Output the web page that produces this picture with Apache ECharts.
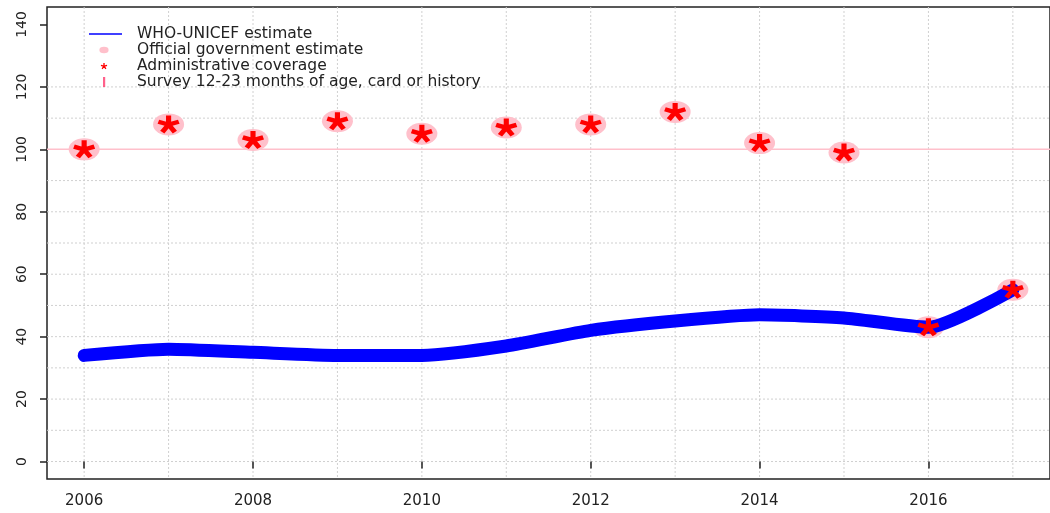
<!DOCTYPE html>
<html>
<head>
<meta charset="utf-8">
<script src="https://cdn.jsdelivr.net/npm/echarts@6/dist/echarts.min.js"></script>
<style>
html,body{margin:0;padding:0;background:#fff;}
#chart{width:1050px;height:513px;}
</style>
</head>
<body>
<div id="chart"></div>
<script>
// ---- data ----
var years = [2006, 2007, 2008, 2009, 2010, 2011, 2012, 2013, 2014, 2015, 2016, 2017];
var whoUnicef = [34, 36, 35, 34, 34, 37, 42, 45, 47, 46, 43, 55];
var officialGov = [100, 108, 103, 109, 105, 107, 108, 112, 102, 99, 43, 55];
var adminCoverage = [100, 108, 103, 109, 105, 107, 108, 112, 102, 99, 43, 55];
var surveyValues = [];
var xTickLabels = [2006, 2008, 2010, 2012, 2014, 2016];
var yTickLabels = [0, 20, 40, 60, 80, 100, 120, 140];
var gridYValues = [0, 10, 20, 30, 40, 50, 60, 70, 80, 90, 110, 120];
var gridXValues = years;
var refLine = [100];
var seriesNames = ['WHO-UNICEF estimate', 'Official government estimate', 'Administrative coverage', 'Survey 12-23 months of age, card or history'];

function pair(xs, ys) { return xs.map(function (x, i) { return [x, ys[i]]; }); }

function starPath(cx, cy, L, w) {
  var s = '';
  for (var k = 0; k < 5; k++) {
    var t = k * 72 * Math.PI / 180;
    var dx = Math.sin(t), dy = -Math.cos(t);
    var px = Math.cos(t), py = Math.sin(t);
    var b = -w * 0.3;
    var pts = [
      [cx + px * w / 2 + dx * b, cy + py * w / 2 + dy * b],
      [cx + px * w / 2 + dx * L, cy + py * w / 2 + dy * L],
      [cx - px * w / 2 + dx * L, cy - py * w / 2 + dy * L],
      [cx - px * w / 2 + dx * b, cy - py * w / 2 + dy * b]
    ];
    s += 'M' + pts.map(function (p) { return p[0].toFixed(2) + ',' + p[1].toFixed(2); }).join('L') + 'Z';
  }
  return s;
}

var starSymbol = 'path://' + starPath(50, 50, 50, 24);
var pad = 'M0,0M430,100';
var legLine = 'path://' + pad + 'M0,43L330,43L330,57L0,57Z';
var legDot = 'path://' + pad + 'M104,50A46,32 0 1 0 196,50A46,32 0 1 0 104,50Z';
var legStar = 'path://' + pad + starPath(150, 53, 32, 13);
var legBar = 'path://' + pad + 'M140,0L162,0L162,100L140,100Z';

var FONT = 'DejaVu Sans';
var TXT = '#222';

function hLine(color, width, dash) {
  return function (params, api) {
    var cs = params.coordSys;
    var y = api.coord([2010, api.value(0)])[1];
    return {
      type: 'line', silent: true,
      shape: { x1: cs.x, y1: y, x2: cs.x + cs.width, y2: y },
      style: { stroke: color, lineWidth: width, lineDash: dash, fill: null }
    };
  };
}
function vLine(color, width, dash) {
  return function (params, api) {
    var cs = params.coordSys;
    var x = api.coord([api.value(0), 50])[0];
    return {
      type: 'line', silent: true,
      shape: { x1: x, y1: cs.y, x2: x, y2: cs.y + cs.height },
      style: { stroke: color, lineWidth: width, lineDash: dash, fill: null }
    };
  };
}

var noSplit = { show: false };

var chart = echarts.init(document.getElementById('chart'), null, { renderer: 'canvas' });
chart.setOption({
  animation: false,
  backgroundColor: '#fff',
  grid: {
    left: 47, right: -4, top: 7, bottom: 34,
    show: true, borderColor: '#222', borderWidth: 1.5, backgroundColor: 'transparent'
  },
  legend: {
    orient: 'vertical', left: 89, top: 26, padding: 0,
    itemWidth: 43, itemHeight: 10, itemGap: 0,
    textStyle: { fontFamily: FONT, fontSize: 15.5, color: TXT, lineHeight: 15 },
    selectedMode: false,
    data: [
      { name: seriesNames[0], icon: legLine, itemStyle: { color: '#0000ff', borderWidth: 0 }, lineStyle: { color: '#0000ff' } },
      { name: seriesNames[1], icon: legDot, itemStyle: { color: '#ffc0cb', borderWidth: 0 } },
      { name: seriesNames[2], icon: legStar, itemStyle: { color: '#ff0000', borderWidth: 0 } },
      { name: seriesNames[3], icon: legBar, itemStyle: { color: '#ff3a6e', borderWidth: 0 } }
    ]
  },
  xAxis: {
    type: 'value', min: 2005.56, max: 2017.44,
    axisLine: { show: false },
    splitLine: noSplit,
    minorSplitLine: noSplit,
    splitArea: { show: false },
    axisTick: { show: true, customValues: xTickLabels, length: 7, lineStyle: { color: '#222', width: 1.5 } },
    axisLabel: {
      customValues: xTickLabels, margin: 15,
      fontFamily: FONT, fontSize: 15, color: TXT,
      formatter: function (v) { return String(v); }
    }
  },
  yAxis: {
    type: 'value', min: -5.6, max: 145.6,
    axisLine: { show: false },
    splitLine: noSplit,
    minorSplitLine: noSplit,
    splitArea: { show: false },
    axisTick: { show: true, customValues: yTickLabels, length: 7, lineStyle: { color: '#222', width: 1.5 } },
    axisLabel: {
      customValues: yTickLabels, rotate: 90, margin: 18,
      fontFamily: FONT, fontSize: 14, color: TXT,
      formatter: function (v) { return String(v); }
    }
  },
  series: [
    {
      name: 'hgrid', type: 'custom', z: 0, silent: true, clip: false,
      renderItem: hLine('#d0d0d0', 1, [2, 2]),
      encode: { y: 0 },
      data: gridYValues.map(function (v) { return [v]; })
    },
    {
      name: 'vgrid', type: 'custom', z: 0, silent: true, clip: false,
      renderItem: vLine('#d0d0d0', 1, [2, 2]),
      encode: { x: 0 },
      data: gridXValues.map(function (v) { return [v]; })
    },
    {
      name: 'reference', type: 'custom', z: 1, silent: true, clip: false,
      renderItem: hLine('#ffc0cb', 1.5, null),
      encode: { y: 0 },
      data: refLine.map(function (v) { return [v]; })
    },
    {
      name: seriesNames[1], type: 'scatter', z: 2, silent: true,
      symbol: 'circle', symbolSize: [31, 22],
      itemStyle: { color: '#ffc0cb', opacity: 1 },
      data: pair(years, officialGov)
    },
    {
      name: seriesNames[0], type: 'line', z: 3, silent: true,
      color: '#0000ff',
      smooth: 0.2, symbol: 'none', showSymbol: false,
      lineStyle: { color: '#0000ff', width: 13, cap: 'round', join: 'round' },
      itemStyle: { color: '#0000ff' },
      data: pair(years, whoUnicef)
    },
    {
      name: seriesNames[2], type: 'scatter', z: 4, silent: true,
      symbol: starSymbol, symbolSize: [22, 18],
      itemStyle: { color: '#ff0000', opacity: 1 },
      data: pair(years, adminCoverage)
    },
    {
      name: seriesNames[3], type: 'scatter', z: 4, silent: true,
      symbol: 'rect', symbolSize: [2, 12],
      itemStyle: { color: '#ff3a6e' },
      data: surveyValues
    }
  ]
});
</script>
</body>
</html>
